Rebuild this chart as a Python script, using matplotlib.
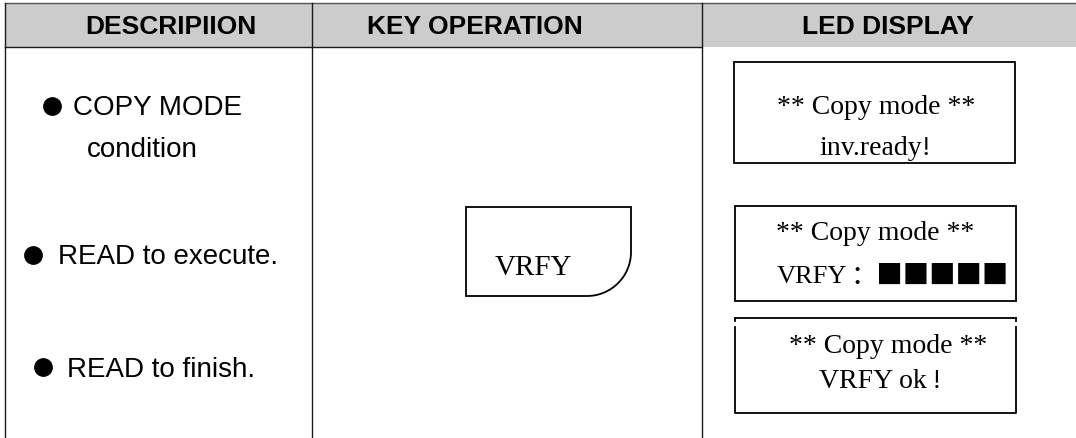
import numpy as np
import matplotlib.pyplot as plt
from matplotlib.patches import Rectangle, PathPatch
from matplotlib.path import Path

# =========================
# DATA
# =========================
headers = ['DESCRIPIION', 'KEY OPERATION', 'LED DISPLAY']
header_x = [171, 475, 888]

desc_lines = ['COPY MODE', 'condition', 'READ to execute.', 'READ to finish.']
desc_x = [73, 87, 58, 67]
desc_y = [115, 157, 264, 377]
bullet_pos = [(52, 107), (33, 256), (43, 368)]

key_label = 'VRFY'

led_boxes = [(734, 63, 1015, 164), (735, 207, 1016, 302), (735, 319, 1016, 414)]
led_top = ['** Copy mode **', '** Copy mode **', '** Copy mode **']
led_top_x = [876, 875, 888]
led_top_y = [114, 240, 353]
led_bottom = ['inv.ready!', None, 'VRFY ok\u2009!']
led_bottom_x = [875, None, 880]
led_bottom_y = [155, None, 388]

progress_label = 'VRFY'
progress_blocks = '\uff1a\u25a0\u25a0\u25a0\u25a0\u25a0'

# =========================
# FIGURE
# =========================
W, H = 1076, 439
fig = plt.figure(figsize=(W / 100, H / 100), dpi=100)
ax = fig.add_axes([0, 0, 1, 1])
ax.set_xlim(0, W)
ax.set_ylim(H, 0)
ax.axis('off')

line_c = '#1a1a1a'

# header band
ax.add_patch(Rectangle((5, 4), W - 5, 44, facecolor='#cccccc', edgecolor='none'))
ax.plot([5, W], [4, 4], color='#555555', lw=1)
ax.plot([5, 702], [48, 48], color=line_c, lw=1)

# column lines
for x in [5, 312, 702]:
    ax.plot([x, x], [4, H], color=line_c, lw=1)

for txt, x in zip(headers, header_x):
    ax.text(x, 27, txt, ha='center', va='center', fontsize=19,
            fontweight='bold', family='Liberation Sans')

# description column
for txt, x, y in zip(desc_lines, desc_x, desc_y):
    ax.text(x, y, txt, ha='left', va='baseline', fontsize=20,
            family='Liberation Sans')
for bx, by in bullet_pos:
    ax.plot(bx, by, 'o', color='black', ms=12.5)

# key button with rounded lower-right corner
x0, y0, x1, y1 = 466, 208, 631, 297
r = 44
k = 0.5523
verts = [(x0, y0), (x1, y0), (x1, y1 - r),
         (x1, y1 - r + k * r), (x1 - r + k * r, y1), (x1 - r, y1),
         (x0, y1), (x0, y0)]
codes = [Path.MOVETO, Path.LINETO, Path.LINETO,
         Path.CURVE4, Path.CURVE4, Path.CURVE4,
         Path.LINETO, Path.CLOSEPOLY]
ax.add_patch(PathPatch(Path(verts, codes), facecolor='none',
                       edgecolor='black', lw=1.3))
ax.text(533, 275, key_label, ha='center', va='baseline', fontsize=21,
        family='Liberation Serif')

# LED display boxes (last one has small notches at its top corners)
for i, (bx0, by0, bx1, by1) in enumerate(led_boxes):
    if i < 2:
        ax.add_patch(Rectangle((bx0, by0), bx1 - bx0, by1 - by0,
                               facecolor='none', edgecolor='black', lw=1.3))
    else:
        ax.plot([bx0, bx1], [by0, by0], color='black', lw=1.3)
        ax.plot([bx0, bx0, bx1, bx1], [by0 + 9, by1, by1, by0 + 9],
                color='black', lw=1.3)
        ax.plot([bx0, bx0], [by0, by0 + 3], color='black', lw=1.3)
        ax.plot([bx1, bx1], [by0, by0 + 3], color='black', lw=1.3)

for txt, x, y in zip(led_top, led_top_x, led_top_y):
    ax.text(x, y, txt, ha='center', va='baseline', fontsize=20,
            family='Liberation Serif')
for txt, x, y in zip(led_bottom, led_bottom_x, led_bottom_y):
    if txt is None:
        continue
    ax.text(x, y, txt, ha='center', va='baseline', fontsize=20,
            family=['Liberation Serif', 'DejaVu Serif'])

# VRFY progress line
ax.text(777, 283, progress_label, ha='left', va='baseline', fontsize=19,
        family='Liberation Serif')
ax.text(850, 284, progress_blocks, ha='left', va='baseline', fontsize=19,
        family='Noto Sans CJK SC')

fig.savefig('out.png', dpi=100)
